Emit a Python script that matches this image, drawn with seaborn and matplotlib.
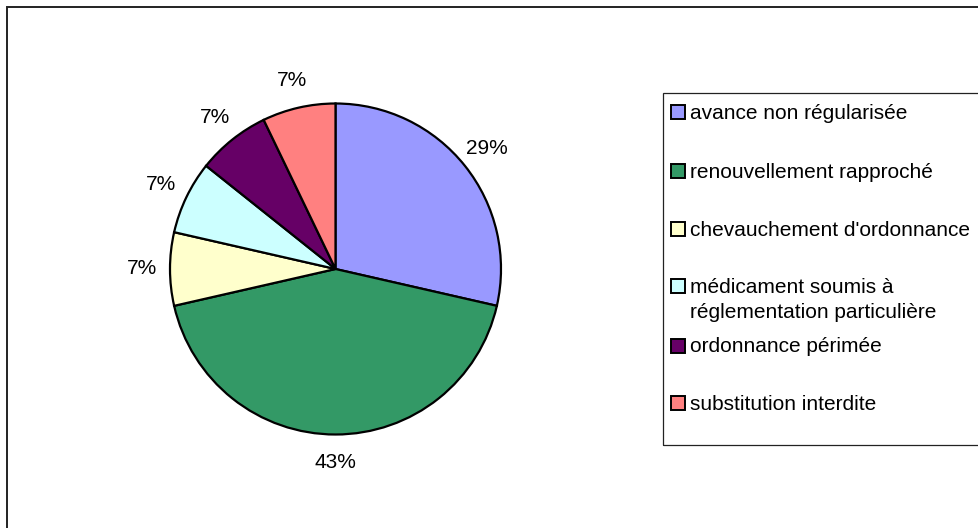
import matplotlib
matplotlib.use("Agg")
import matplotlib.pyplot as plt
import seaborn as sns
from matplotlib.patches import Rectangle

sns.set_theme(style="white")
plt.rcParams['font.family'] = ['Liberation Sans', 'DejaVu Sans']

categories = ["avance non régularisée", "renouvellement rapproché",
              "chevauchement d'ordonnance",
              "médicament soumis à\nréglementation particulière",
              "ordonnance périmée", "substitution interdite"]
values = [4, 6, 1, 1, 1, 1]
colors = ["#9999FF", "#339966", "#FFFFCC", "#CCFFFF", "#660066", "#FF8080"]

W, H = 979, 528
FS = 15
fig = plt.figure(figsize=(W / 100, H / 100), dpi=100)
fig.patch.set_facecolor("white")

# outer chart frame (left and top visible)
fig.add_artist(Rectangle((7.5 / W, -0.1), 1.2, (H - 6.5) / H + 0.1, transform=fig.transFigure,
                         fill=False, edgecolor="#222222", linewidth=1.4))

cx, cy, R = 335.5, 269, 165.5
half = 200
ax = fig.add_axes([(cx - half) / W, (H - cy - half) / H, 2 * half / W, 2 * half / H])
wedges, texts, autotexts = ax.pie(
    values, colors=colors, startangle=90, counterclock=False,
    autopct=lambda p: f"{p:.0f}%", pctdistance=1.17,
    wedgeprops=dict(edgecolor="black", linewidth=1.6),
    textprops=dict(fontsize=FS, color="black"), radius=1.0)
lim = half / R
ax.set_xlim(-lim, lim)
ax.set_ylim(-lim, lim)
ax.set_aspect("equal")
ax.axis("off")

# legend box
lx0, ly0, lx1, ly1 = 663, 93, 982, 445
fig.add_artist(Rectangle((lx0 / W, (H - ly1) / H), (lx1 - lx0) / W, (ly1 - ly0) / H,
                         transform=fig.transFigure, fill=False, edgecolor="#222222", linewidth=0.9))
ys = [111.7, 170.5, 229, 286, 345.5, 403]
s = 14
for cat, col, y in zip(categories, colors, ys):
    fig.add_artist(Rectangle((670.5 / W, (H - y - s / 2) / H), s / W, s / H, transform=fig.transFigure,
                             facecolor=col, edgecolor="black", linewidth=1.4))
    for i, line in enumerate(cat.split("\n")):
        fig.text(690 / W, (H - (y + 7) - 25 * i) / H, line, ha="left", va="baseline",
                 fontsize=FS, color="black")

fig.savefig("out.png", dpi=100, facecolor="white")
